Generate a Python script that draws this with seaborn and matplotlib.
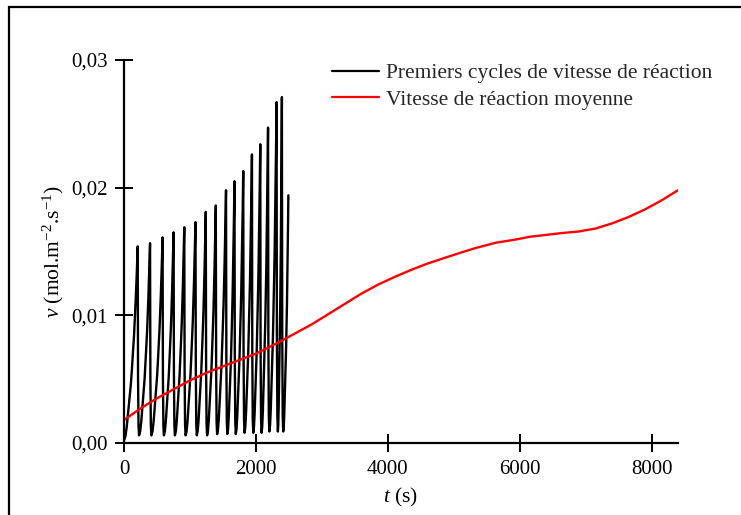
import numpy as np
import pandas as pd
import matplotlib
matplotlib.use("Agg")
import matplotlib.pyplot as plt
from matplotlib.patches import Rectangle
import seaborn as sns

# ---- data ----
peak_t = [208, 395, 585, 752, 914, 1084, 1240, 1392, 1547, 1675, 1808, 1940, 2066, 2184, 2313, 2394, 2492]
peak_v = [0.0154, 0.01565, 0.0161, 0.0165, 0.0169, 0.0173, 0.0181, 0.0186, 0.0198, 0.0205,
          0.0213, 0.0226, 0.0234, 0.0247, 0.0267, 0.0271, 0.0194]
start_v = [0.0002, 0.0006, 0.0006, 0.0006, 0.0006, 0.0006, 0.0006, 0.0006, 0.0007, 0.0007,
           0.0007, 0.0008, 0.0008, 0.0008, 0.0009, 0.0009, 0.0009]
# normalised shape of one rising branch (phase of cycle -> fraction of amplitude)
rise_phase = [0.0, 0.1, 0.2, 0.36, 0.5, 0.57, 0.65, 0.73, 0.85, 0.93, 1.0]
rise_frac = [0.0, 0.02, 0.07, 0.19, 0.29, 0.36, 0.45, 0.54, 0.72, 0.86, 1.0]
# shape of the drop after a peak (seconds after the peak -> fraction of height above trough)
drop_dt = [0, 5, 12, 20]
drop_frac = [1.0, 0.3, 0.05, 0.0]

mean_t = [0, 250, 500, 750, 1000, 1250, 1500, 1750, 2000, 2200, 2350, 2600, 2850, 3100, 3350,
          3600, 3850, 4100, 4350, 4600, 4850, 5100, 5350, 5650, 5900, 6150, 6400, 6650, 6900,
          7150, 7400, 7650, 7900, 8150, 8400]
mean_v = [0.0018, 0.0027, 0.0035, 0.0042, 0.0049, 0.0055, 0.0060, 0.0065, 0.0070, 0.0075,
          0.0079, 0.0086, 0.0093, 0.0101, 0.0109, 0.0117, 0.0124, 0.0130, 0.01355, 0.01405,
          0.01448, 0.0149, 0.0153, 0.0157, 0.0159, 0.01615, 0.0163, 0.01645, 0.01657, 0.0168,
          0.0172, 0.0177, 0.0183, 0.0190, 0.0198]

x_ticks = [0, 2000, 4000, 6000, 8000]
y_ticks = [0.0, 0.01, 0.02, 0.03]
y_ticklabels = ["0,00", "0,01", "0,02", "0,03"]

label_cycles = "Premiers cycles de vitesse de réaction"
label_mean = "Vitesse de réaction moyenne"

# ---- build the cycle curve from the read values ----
ts, vs = [], []
t0 = 0.0
for i, (tp, vp, v0) in enumerate(zip(peak_t, peak_v, start_v)):
    for ph, fr in zip(rise_phase, rise_frac):
        ts.append(t0 + ph * (tp - t0))
        vs.append(v0 + fr * (vp - v0))
    if i < len(peak_t) - 1:
        vn = start_v[i + 1]
        for dt, fr in zip(drop_dt[1:], drop_frac[1:]):
            ts.append(tp + dt)
            vs.append(vn + fr * (vp - vn))
        t0 = tp + drop_dt[-1]

df_cycles = pd.DataFrame({"t": ts, "v": vs})
df_mean = pd.DataFrame({"t": mean_t, "v": mean_v})

# ---- style ----
sns.set_theme(style="white")
plt.rcParams["font.family"] = ["Liberation Serif", "DejaVu Serif"]
plt.rcParams["mathtext.fontset"] = "custom"
plt.rcParams["mathtext.rm"] = "Liberation Serif"
plt.rcParams["mathtext.it"] = "Liberation Serif:italic"

FS = 15.5
fig = plt.figure(figsize=(7.41, 5.15), dpi=100)
ax = fig.add_axes([124 / 741, 1 - 443 / 515, (678 - 124) / 741, (443 - 60) / 515])

sns.lineplot(data=df_cycles, x="t", y="v", sort=False, estimator=None, ax=ax,
             color="black", lw=1.7, label=label_cycles)
sns.lineplot(data=df_mean, x="t", y="v", sort=False, estimator=None, ax=ax,
             color="#ff0000", lw=1.7, label=label_mean)

ax.set_xlim(0, 8400)
ax.set_ylim(0, 0.03)
ax.set_xticks(x_ticks)
ax.set_xticklabels([str(x) for x in x_ticks])
ax.set_yticks(y_ticks)
ax.set_yticklabels(y_ticklabels)

for s in ["top", "right"]:
    ax.spines[s].set_visible(False)
for s in ["left", "bottom"]:
    ax.spines[s].set_color("black")
    ax.spines[s].set_linewidth(1.6)

ax.tick_params(axis="both", which="major", bottom=True, left=True, direction="inout",
               length=13, width=1.4, colors="black", labelsize=15, labelcolor="black")
ax.tick_params(axis="y", pad=5)
ax.tick_params(axis="x", pad=6)

ax.set_xlabel("$t$ (s)", fontsize=FS, color="black", labelpad=5)
ax.set_ylabel("$v$ (mol.m$^{-2}$.s$^{-1}$)", fontsize=FS, color="black", labelpad=4)

leg = ax.legend(loc="upper left", bbox_to_anchor=(332 / 741, 1 - 63 / 515),
                bbox_transform=fig.transFigure, frameon=False, fontsize=FS,
                handlelength=2.2, handletextpad=0.3, borderpad=0, borderaxespad=0,
                labelspacing=0.3)
for line in leg.get_lines():
    line.set_linewidth(1.6)

fig.add_artist(Rectangle((9 / 741, -0.2), 2.0, 1.2 - 7 / 515, transform=fig.transFigure,
                         fill=False, edgecolor="black", lw=1.6))

fig.savefig("out.png", dpi=100)
